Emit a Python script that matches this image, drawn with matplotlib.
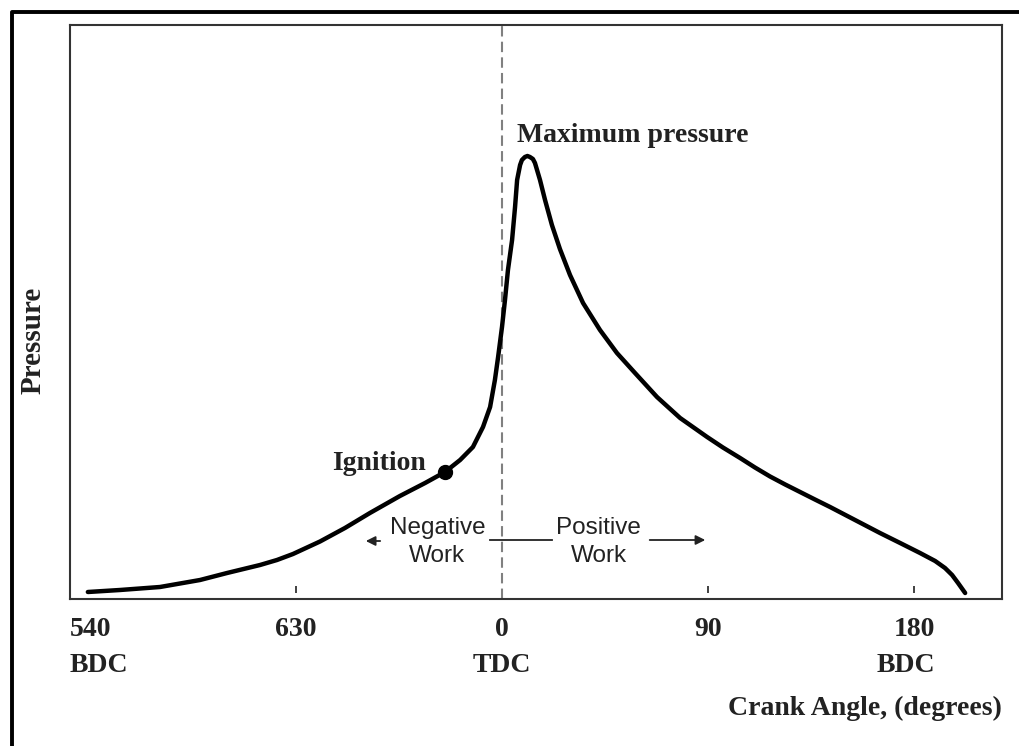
import matplotlib
matplotlib.use("Agg")
import matplotlib.pyplot as plt
from matplotlib.lines import Line2D

# crank angle relative to TDC (degrees) and pressure (arbitrary units)
angle = [-180.9, -166.9, -149.4, -131.9, -120.1, -105.7, -98.3, -91.3, -79.5, -68.6, -57.7,
         -44.6, -33.6, -24.9, -18.3, -12.7, -8.3, -5.2, -3.1, -1.7, 0.0, 1.3, 2.6,
         4.4, 5.7, 6.6, 7.9, 8.7, 10.0, 11.1, 12.2, 13.5, 14.4, 16.6, 18.8, 21.8,
         25.3, 29.7, 35.4, 42.8, 50.2, 58.1, 67.7, 77.8, 89.6, 96.5, 104.0, 110.5,
         117.1, 123.7, 130.2, 136.7, 143.3, 154.2, 165.1, 173.9, 182.6, 189.2, 193.5,
         196.6, 199.2, 202.3]
pressure = [7, 9, 12, 19, 26, 34, 39, 45, 57.5, 71, 86,
            103, 116, 127, 139, 152, 172, 192, 219, 242, 272, 299, 329,
            359, 392, 419, 434, 439, 442, 443, 442, 440, 436, 419, 399, 374,
            350, 324, 296, 269, 246, 226, 202, 181, 162, 151.5, 141, 131.5,
            122.5, 114.5, 107, 99.5, 92, 79, 66, 56, 46, 38, 31,
            24, 16, 6]

ignition = (-24.9, 127)
tick_pos = [-90, 90, 180]
tick_labels = [(-188.7, "540\nBDC", "left"), (-90, "630", "center"), (0, "0\nTDC", "center"),
               (90, "90", "center"), (189.2, "180\nBDC", "right")]

serif = "Liberation Serif"
sans = "Liberation Sans"
ink = "#222222"

fig = plt.figure(figsize=(10.19, 7.46), dpi=100)
ax = fig.add_axes([70 / 1019, 147 / 746, 932 / 1019, 574 / 746])
ax.set_xlim(-188.7, 218.4)
ax.set_ylim(0, 574)

ax.plot(angle, pressure, color="black", lw=3.2, solid_capstyle="round",
        solid_joinstyle="round", zorder=3)
ax.plot(*ignition, "o", color="black", ms=10, zorder=4)
ax.axvline(0, color="#808080", lw=1.5, ls=(0, (5, 2.5)), zorder=2)
ax.vlines(tick_pos, 6, 13, color="#333333", lw=1.3)

for s in ax.spines.values():
    s.set_linewidth(1.5)
    s.set_color("#333333")
ax.set_xticks([])
ax.set_yticks([])

for x, lab, ha in tick_labels:
    ax.text(x, -0.031, lab, transform=ax.get_xaxis_transform(), ha=ha, va="top",
            multialignment=ha, fontsize=20, fontweight="bold", family=serif,
            linespacing=1.6, color=ink)

ax.text(1.0, -0.202, "Crank Angle, (degrees)", transform=ax.transAxes, ha="right",
        va="baseline", fontsize=20, fontweight="bold", family=serif, color=ink)
fig.text(33 / 1019, 1 - 340 / 746, "Pressure", rotation=90, ha="center", va="center",
         fontsize=21, fontweight="bold", family=serif, color=ink)

ax.text(6.6, 457, "Maximum pressure", ha="left", va="baseline", fontsize=20,
        fontweight="bold", family=serif, color=ink)
ax.text(-74.3, 129, "Ignition", ha="left", va="baseline", fontsize=20,
        fontweight="bold", family=serif, color=ink)

ax.text(-28.2, 57, "Negative\nWork", ha="center", va="center", fontsize=17.5,
        family=sans, linespacing=1.4, color=ink)
ax.text(42.2, 57, "Positive\nWork", ha="center", va="center", fontsize=17.5,
        family=sans, linespacing=1.4, color=ink)

arrow = dict(arrowstyle="-|>", color=ink, lw=1.3, mutation_scale=14)
ax.annotate("", xy=(-60.7, 58), xytext=(-52, 58), arrowprops=arrow)
ax.annotate("", xy=(90, 59), xytext=(63.3, 59), arrowprops=arrow)
ax.plot([-5.2, 21.8], [59, 59], color=ink, lw=1.3)

# outer frame (left and top edges are visible, rest is cut off)
fx = 12 / 1019
fy = 1 - 12 / 746
fig.add_artist(Line2D([fx, fx, 1.0], [0.0, fy, fy], color="black", lw=2.8,
                      transform=fig.transFigure))

fig.savefig("out.png", dpi=100)
